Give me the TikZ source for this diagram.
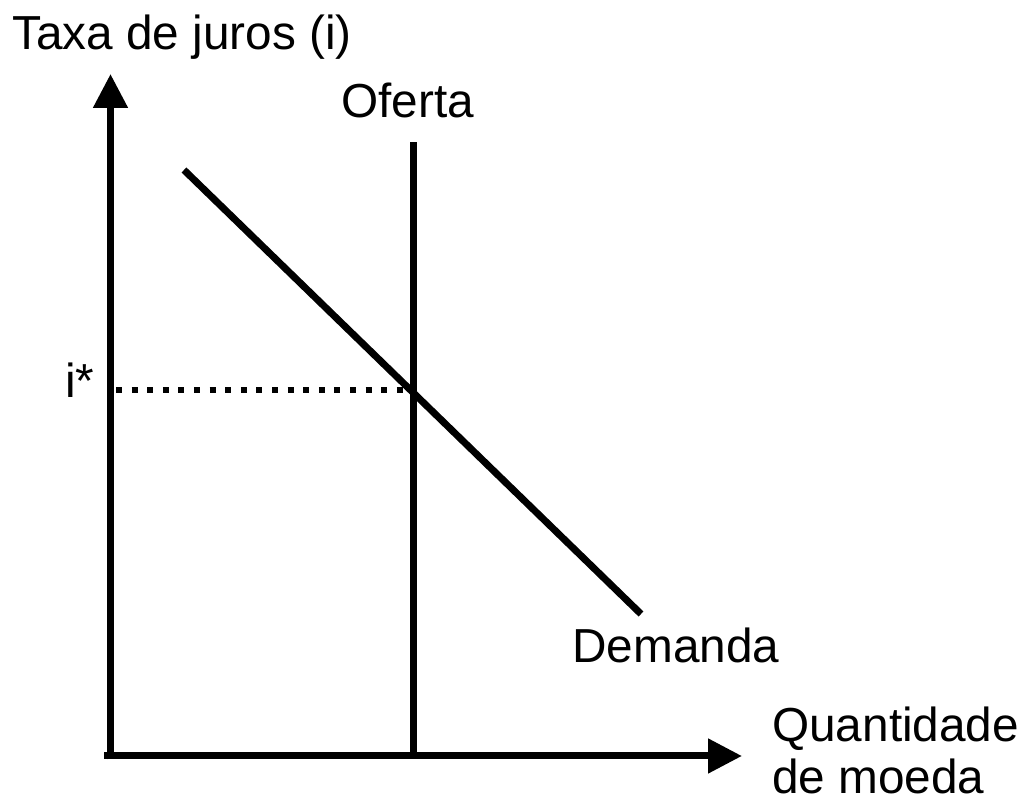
\documentclass[tikz,border=0pt]{standalone}
\usepackage{fontspec}
\setmainfont{Liberation Sans}
\usetikzlibrary{arrows.meta}
\tikzset{
	axis/.style={line width=5.25pt, -{Triangle[length=25.5pt, width=25pt]}},
	curve/.style={line width=5.25pt},
	guide/.style={line width=4.5pt, dash pattern=on 4.5pt off 7.2pt},
	lbl/.style={anchor=base west, inner sep=0pt, font=\fontsize{35.8}{41}\selectfont}
}
\begin{document}
\begin{tikzpicture}[x=0.75pt, y=0.75pt]
			\useasboundingbox (0,0) rectangle (1026,803);
			\coordinate (xstart) at (104,47);
			\coordinate (xend) at (742,47);
			\coordinate (ystart) at (110.5,43.5);
			\coordinate (yend) at (110.5,729);
			\coordinate (sbottom) at (413,47);
			\coordinate (stop) at (413,661);
			\coordinate (dtop) at (184,633);
			\coordinate (dbottom) at (641,189);
			\coordinate (gstart) at (116,413);
			\coordinate (eq) at (410,413);
			\draw[axis] (ystart) -- (yend);
			\draw[axis] (xstart) -- (xend);
			\draw[curve] (sbottom) -- (stop);
			\draw[curve] (dtop) -- (dbottom);
			\draw[guide] (gstart) -- (eq);
			\node[lbl] (ylabel) at (12,753) {Taxa de juros (i)};
			\node[lbl] (supplylabel) at (341,685) {Oferta};
			\node[lbl] (istar) at (65,405) {i*};
			\node[lbl] (demandlabel) at (572,140) {Demanda};
			\foreach \y\t in {61/Quantidade,9/de moeda}{
				\node[lbl] at (772,\y) {\t};
			}
		\end{tikzpicture}
\end{document}
